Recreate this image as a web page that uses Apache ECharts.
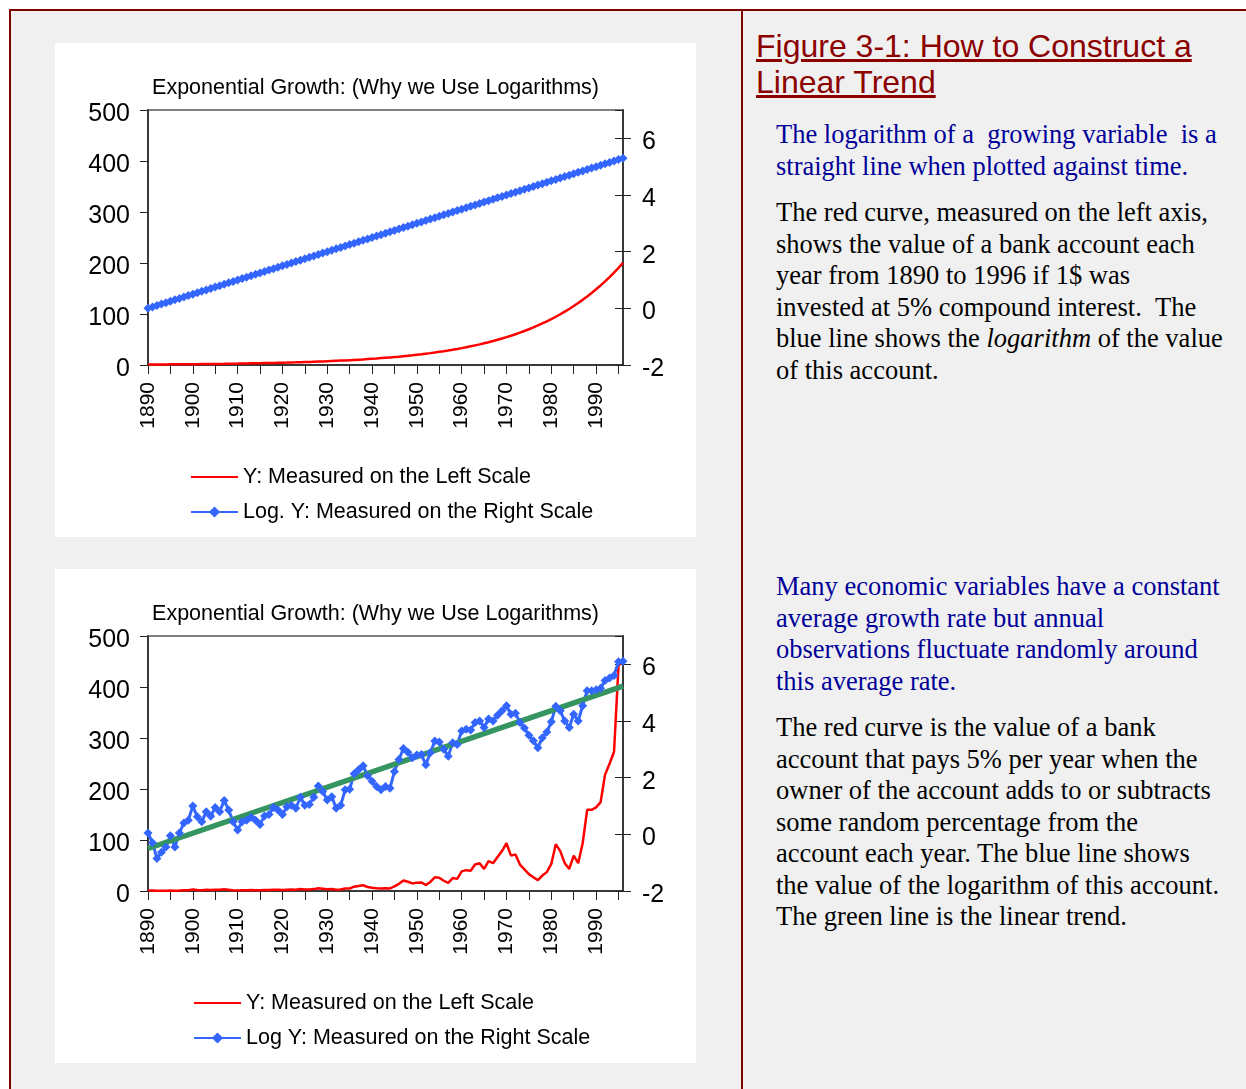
<!DOCTYPE html>
<html>
<head>
<meta charset="utf-8">
<title>Figure 3-1: How to Construct a Linear Trend</title>
<script src="https://cdn.jsdelivr.net/npm/echarts@6/dist/echarts.min.js"></script>
<style>
  html, body { margin: 0; padding: 0; background: #fff; }
  body { width: 1246px; height: 1089px; position: relative; overflow: hidden; }
  #frame { position: absolute; left: 9px; top: 9px; width: 1300px; height: 1200px; border: 2px solid #800000; background: #f0f0f0; }
  #divider { position: absolute; left: 741px; top: 9px; width: 2px; height: 1100px; background: #800000; }
  .panel { position: absolute; left: 55px; width: 641px; height: 494px; background: #fff; }
  #chart1 { top: 43px; }
  #chart2 { top: 569px; }
  .txt { position: absolute; white-space: nowrap; }
  #heading { left: 756px; top: 28px; font-family: "Liberation Sans", Arial, sans-serif; font-size: 32px; line-height: 36px; color: #8c0000; text-decoration: underline; }
  .serif { left: 776px; font-family: "Liberation Serif", "Times New Roman", serif; font-size: 26.5px; line-height: 31.5px; }
  .blue { color: #000099; }
  .black { color: #000; }
</style>
</head>
<body>
<div id="frame"></div>
<div id="divider"></div>
<div id="chart1" class="panel"></div>
<div id="chart2" class="panel"></div>

<div id="heading" class="txt">Figure 3-1: How to Construct a<br>Linear Trend</div>
<div class="txt serif blue" style="top:119px">The logarithm of a &nbsp;growing variable &nbsp;is a<br>straight line when plotted against time.</div>
<div class="txt serif black" style="top:197px">The red curve, measured on the left axis,<br>shows the value of a bank account each<br>year from 1890 to 1996 if 1$ was<br>invested at 5% compound interest. &nbsp;The<br>blue line shows the <i>logarithm</i> of the value<br>of this account.</div>
<div class="txt serif blue" style="top:571px">Many economic variables have a constant<br>average growth rate but annual<br>observations fluctuate randomly around<br>this average rate.</div>
<div class="txt serif black" style="top:712px">The red curve is the value of a bank<br>account that pays 5% per year when the<br>owner of the account adds to or subtracts<br>some random percentage from the<br>account each year. The blue line shows<br>the value of the logarithm of this account.<br>The green line is the linear trend.</div>

<script>
// 年份 1890 - 1996
const firstYear = 1890;
const lastYear = 1996;
const years = [];
for (let y = firstYear; y <= lastYear; y++) years.push(String(y));

const chartTitle = "Exponential Growth: (Why we Use Logarithms)";

// chart 1: smooth growth
const smoothValue = [
  1.0, 1.1, 1.1, 1.2, 1.2, 1.3, 1.3, 1.4, 1.5, 1.6,
  1.6, 1.7, 1.8, 1.9, 2.0, 2.1, 2.2, 2.3, 2.5, 2.6,
  2.7, 2.9, 3.0, 3.2, 3.3, 3.5, 3.7, 3.9, 4.1, 4.3,
  4.5, 4.7, 5.0, 5.2, 5.5, 5.8, 6.0, 6.4, 6.7, 7.0,
  7.4, 7.8, 8.2, 8.6, 9.0, 9.5, 10.0, 10.5, 11.0, 11.6,
  12.2, 12.8, 13.5, 14.2, 14.9, 15.6, 16.4, 17.3, 18.2, 19.1,
  20.1, 21.1, 22.2, 23.3, 24.5, 25.8, 27.1, 28.5, 30.0, 31.5,
  33.1, 34.8, 36.6, 38.5, 40.4, 42.5, 44.7, 47.0, 49.4, 51.9,
  54.6, 57.4, 60.3, 63.4, 66.7, 70.1, 73.7, 77.5, 81.5, 85.6,
  90.0, 94.6, 99.5, 104.6, 109.9, 115.6, 121.5, 127.7, 134.3, 141.2,
  148.4, 156.0, 164.0, 172.4, 181.3, 190.6, 200.3
];
const smoothLog = [
  0.00, 0.05, 0.10, 0.15, 0.20, 0.25, 0.30, 0.35, 0.40, 0.45,
  0.50, 0.55, 0.60, 0.65, 0.70, 0.75, 0.80, 0.85, 0.90, 0.95,
  1.00, 1.05, 1.10, 1.15, 1.20, 1.25, 1.30, 1.35, 1.40, 1.45,
  1.50, 1.55, 1.60, 1.65, 1.70, 1.75, 1.80, 1.85, 1.90, 1.95,
  2.00, 2.05, 2.10, 2.15, 2.20, 2.25, 2.30, 2.35, 2.40, 2.45,
  2.50, 2.55, 2.60, 2.65, 2.70, 2.75, 2.80, 2.85, 2.90, 2.95,
  3.00, 3.05, 3.10, 3.15, 3.20, 3.25, 3.30, 3.35, 3.40, 3.45,
  3.50, 3.55, 3.60, 3.65, 3.70, 3.75, 3.80, 3.85, 3.90, 3.95,
  4.00, 4.05, 4.10, 4.15, 4.20, 4.25, 4.30, 4.35, 4.40, 4.45,
  4.50, 4.55, 4.60, 4.65, 4.70, 4.75, 4.80, 4.85, 4.90, 4.95,
  5.00, 5.05, 5.10, 5.15, 5.20, 5.25, 5.30
];

// chart 2: random fluctuations
const noisyValue = [
  1.05, 0.74, 0.43, 0.53, 0.64, 0.95, 0.64, 1.05, 1.49, 1.65,
  2.72, 1.86, 1.55, 2.23, 1.90, 2.59, 2.23, 3.29, 2.36, 1.55,
  1.16, 1.55, 1.65, 1.82, 1.65, 1.42, 1.92, 2.01, 2.59, 2.36,
  2.01, 2.64, 2.80, 2.51, 3.71, 2.80, 2.86, 3.71, 5.53, 4.53,
  3.35, 3.78, 2.51, 2.80, 4.81, 4.90, 8.50, 9.78, 11.25, 7.92,
  6.49, 5.42, 4.81, 5.42, 5.10, 9.21, 14.0, 20.7, 18.2, 14.9,
  16.4, 16.8, 11.7, 17.8, 26.8, 26.0, 20.1, 15.8, 25.3, 23.8,
  38.5, 40.9, 39.6, 51.9, 54.6, 43.4, 58.6, 54.6, 66.7, 78.3,
  93.7, 69.4, 71.5, 51.9, 42.5, 33.1, 27.1, 21.3, 30.3, 37.0,
  53.0, 91.8, 78.3, 54.6, 43.4, 69.4, 54.6, 93.7, 159.2, 159.2,
  164.0, 174.2, 228.2, 249.6, 273.1, 441.8, 450.3
];
const noisyLog = [
  0.05, -0.30, -0.85, -0.63, -0.45, -0.05, -0.45, 0.05, 0.40, 0.50,
  1.00, 0.62, 0.44, 0.80, 0.64, 0.95, 0.80, 1.19, 0.86, 0.44,
  0.15, 0.44, 0.50, 0.60, 0.50, 0.35, 0.65, 0.70, 0.95, 0.86,
  0.70, 0.97, 1.03, 0.92, 1.31, 1.03, 1.05, 1.31, 1.71, 1.51,
  1.21, 1.33, 0.92, 1.03, 1.57, 1.59, 2.14, 2.28, 2.42, 2.07,
  1.87, 1.69, 1.57, 1.69, 1.63, 2.22, 2.64, 3.03, 2.90, 2.70,
  2.80, 2.82, 2.46, 2.88, 3.29, 3.26, 3.00, 2.76, 3.23, 3.17,
  3.65, 3.71, 3.68, 3.95, 4.00, 3.77, 4.07, 4.00, 4.20, 4.36,
  4.54, 4.24, 4.27, 3.95, 3.75, 3.50, 3.30, 3.06, 3.41, 3.61,
  3.97, 4.52, 4.36, 4.00, 3.77, 4.24, 4.00, 4.54, 5.07, 5.07,
  5.10, 5.16, 5.43, 5.52, 5.61, 6.09, 6.11
];
// linear trend: end points only
const trendYears = ["1890", "1996"];
const trendLog = [-0.5, 5.23];

const FONT = "Liberation Sans";
const RED = "#ff0000";
const BLUE = "#3366ff";
const GREEN = "#359560";

// tick labels sit a little below their ticks, as in the original
const yLabelRich = { v: { fontSize: 25, fontFamily: FONT, color: "#000", padding: [8, 0, 0, 0] } };

function redSeries(name, data) {
  return {
    name: name, type: "line", yAxisIndex: 0, data: data,
    symbol: "none", color: RED,
    lineStyle: { color: RED, width: 2.5 }
  };
}

function blueSeries(name, data) {
  return {
    name: name, type: "line", yAxisIndex: 1, data: data,
    symbol: "diamond", symbolSize: 9, showAllSymbol: true, color: BLUE,
    itemStyle: { color: BLUE },
    lineStyle: { color: BLUE, width: 3 }
  };
}

function buildOption(legendLeft, redName, blueName, series) {
  return {
    backgroundColor: "#fff",
    animation: false,
    textStyle: { fontFamily: FONT, color: "#000" },
    title: {
      text: chartTitle, left: "center", top: 34, padding: 0,
      textStyle: { fontFamily: FONT, fontSize: 21.5, fontWeight: "normal", color: "#000" }
    },
    legend: {
      // the red line has no marker in its legend icon
      data: [{ name: redName, itemStyle: { opacity: 0 } }, blueName],
      orient: "vertical", left: legendLeft, top: 423,
      itemWidth: 47, itemHeight: 14, itemGap: 13, padding: 0,
      textStyle: { fontFamily: FONT, fontSize: 21.5, color: "#000" }
    },
    grid: {
      left: 93, top: 67, width: 475, height: 255,
      show: true, borderColor: "#808080", borderWidth: 2
    },
    xAxis: {
      type: "category", data: years, boundaryGap: false,
      axisLine: { lineStyle: { color: "#222", width: 1.5 } },
      axisTick: { interval: 4, length: 9, lineStyle: { color: "#222" } },
      axisLabel: { interval: 9, rotate: 90, margin: 17, fontSize: 21, fontFamily: FONT, color: "#000" },
      splitLine: { show: false }
    },
    yAxis: [
      {
        type: "value", position: "left", min: 0, max: 500, interval: 100,
        axisLine: { show: true, lineStyle: { color: "#222", width: 1.5 } },
        axisTick: { show: true, length: 8, lineStyle: { color: "#222" } },
        axisLabel: { margin: 18, formatter: "{v|{value}}", rich: yLabelRich },
        splitLine: { show: false }
      },
      {
        type: "value", position: "right", min: -2, max: 7, interval: 2,
        axisLine: { show: true, lineStyle: { color: "#222", width: 1.5 } },
        axisTick: { show: true, length: 8, lineStyle: { color: "#222" } },
        axisLabel: { margin: 19, showMaxLabel: false, formatter: "{v|{value}}", rich: yLabelRich },
        splitLine: { show: false }
      },
      {
        // inner half of the crossing ticks on the right axis
        type: "value", position: "right", min: -2, max: 7, interval: 2,
        axisLine: { show: false },
        axisTick: { show: true, inside: true, length: 8, lineStyle: { color: "#222" } },
        axisLabel: { show: false },
        splitLine: { show: false }
      }
    ],
    series: series
  };
}

let myChart = echarts.init(document.getElementById("chart1"));
let myChart2 = echarts.init(document.getElementById("chart2"));

myChart.setOption(buildOption(135,
  "Y: Measured on the Left Scale", "Log. Y: Measured on the Right Scale",
  [
    redSeries("Y: Measured on the Left Scale", smoothValue),
    blueSeries("Log. Y: Measured on the Right Scale", smoothLog)
  ]));

myChart2.setOption(buildOption(138,
  "Y: Measured on the Left Scale", "Log Y: Measured on the Right Scale",
  [
    redSeries("Y: Measured on the Left Scale", noisyValue),
    blueSeries("Log Y: Measured on the Right Scale", noisyLog),
    {
      name: "Linear trend", type: "line", yAxisIndex: 1,
      data: trendYears.map((y, i) => [y, trendLog[i]]),
      symbol: "none", color: GREEN,
      lineStyle: { color: GREEN, width: 5.5 }
    }
  ]));
</script>
</body>
</html>
